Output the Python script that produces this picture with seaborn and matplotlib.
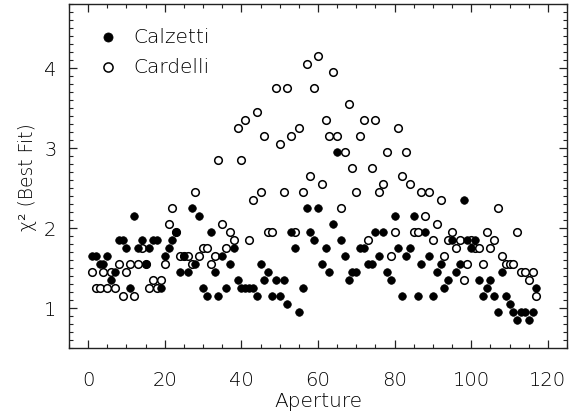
import matplotlib
matplotlib.use("Agg")
import matplotlib.pyplot as plt
import seaborn as sns
import pandas as pd
from matplotlib.ticker import MultipleLocator

aperture = list(range(1, 118))
calzetti = [1.65, 1.65, 1.55, 1.55, 1.65, 1.35, 1.45, 1.85, 1.85, 1.75,
            1.25, 2.15, 1.75, 1.85, 1.55, 1.75, 1.85, 1.85, 1.25, 1.65,
            1.75, 1.85, 1.95, 1.45, 1.65, 1.45, 2.25, 1.55, 2.15, 1.25,
            1.15, 1.95, 1.45, 1.15, 1.65, 1.25, 1.55, 1.75, 1.35, 1.25,
            1.25, 1.25, 1.25, 1.15, 1.55, 1.35, 1.45, 1.15, 1.35, 1.15,
            1.35, 1.05, 1.95, 1.75, 0.95, 1.25, 2.25, 1.95, 1.85, 2.25,
            1.55, 1.75, 1.45, 2.05, 2.95, 1.85, 1.65, 1.35, 1.45, 1.45,
            1.75, 1.75, 1.55, 1.55, 1.95, 1.65, 1.95, 1.45, 1.35, 2.15,
            1.75, 1.15, 1.65, 1.75, 2.15, 1.15, 1.55, 1.95, 1.65, 1.15,
            1.45, 1.55, 1.25, 1.35, 1.85, 1.45, 1.55, 2.35, 1.85, 1.75,
            1.85, 1.35, 1.15, 1.25, 1.35, 1.15, 0.95, 1.45, 1.15, 1.05,
            0.95, 0.85, 0.95, 0.95, 0.85, 0.95, 1.25]
cardelli = [1.45, 1.25, 1.25, 1.45, 1.25, 1.45, 1.25, 1.55, 1.15, 1.45,
            1.55, 1.15, 1.55, 1.75, 1.55, 1.25, 1.35, 1.25, 1.35, 1.55,
            2.05, 2.25, 1.95, 1.65, 1.65, 1.65, 1.55, 2.45, 1.65, 1.75,
            1.75, 1.55, 1.65, 2.85, 2.05, 1.75, 1.95, 1.85, 3.25, 2.85,
            3.35, 1.85, 2.35, 3.45, 2.45, 3.15, 1.95, 1.95, 3.75, 3.05,
            2.45, 3.75, 3.15, 1.95, 3.25, 2.45, 4.05, 2.65, 3.75, 4.15,
            2.55, 3.35, 3.15, 3.95, 3.15, 2.25, 2.95, 3.55, 2.75, 2.45,
            3.15, 3.35, 1.85, 2.75, 3.35, 2.45, 2.55, 2.95, 1.65, 1.95,
            3.25, 2.65, 2.95, 2.55, 1.95, 1.95, 2.45, 2.15, 2.45, 1.85,
            2.05, 2.35, 1.65, 1.85, 1.95, 1.75, 1.85, 1.35, 1.55, 1.85,
            1.75, 1.75, 1.55, 1.95, 1.75, 1.85, 2.25, 1.65, 1.55, 1.55,
            1.55, 1.95, 1.45, 1.45, 1.35, 1.45, 1.15]
labels = ["Calzetti", "Cardelli"]

df_calz = pd.DataFrame({"Aperture": aperture, "chi2": calzetti})
df_card = pd.DataFrame({"Aperture": aperture, "chi2": cardelli})

sns.set_theme(style="ticks")
plt.rcParams["font.family"] = ["DejaVu Sans"]
plt.rcParams["font.weight"] = "light"
plt.rcParams["axes.labelweight"] = "light"
plt.rcParams["axes.edgecolor"] = "#222222"
plt.rcParams["axes.linewidth"] = 1.0

fig = plt.figure(figsize=(5.74, 4.14), dpi=100)
ax = fig.add_axes([69 / 574, 1 - 349 / 414, (567 - 69) / 574, (349 - 4.7) / 414])

sns.scatterplot(data=df_card, x="Aperture", y="chi2", ax=ax, marker="o",
                s=30, facecolor="white", edgecolor="black", linewidth=1.1,
                label=labels[1], zorder=2)
sns.scatterplot(data=df_calz, x="Aperture", y="chi2", ax=ax, marker="o",
                s=30, color="black", edgecolor="black", linewidth=0.5,
                label=labels[0], zorder=3)

ax.set_xlim(-5, 125)
ax.set_ylim(0.5, 4.8)
ax.xaxis.set_major_locator(MultipleLocator(20))
ax.xaxis.set_minor_locator(MultipleLocator(5))
ax.yaxis.set_major_locator(MultipleLocator(1))
ax.yaxis.set_minor_locator(MultipleLocator(0.1))
ax.tick_params(which="both", direction="in", top=True, right=True,
               colors="#222222", labelcolor="black")
ax.tick_params(which="major", length=6, width=0.9, labelsize=14)
ax.tick_params(axis="x", which="major", pad=16)
ax.tick_params(axis="y", which="major", pad=9)
ax.tick_params(which="minor", length=3, width=0.8)

ax.set_xlabel("Aperture", fontsize=14.5, color="black", labelpad=1,
              fontweight="light")
ax.set_ylabel("χ² (Best Fit)", fontsize=13.5, color="black", labelpad=5,
              fontweight="light")

handles, lbls = ax.get_legend_handles_labels()
order = [lbls.index(l) for l in labels]
leg = ax.legend([handles[i] for i in order], [lbls[i] for i in order],
                loc="upper left", bbox_to_anchor=(0.022, 0.985), frameon=False,
                fontsize=14.5, handlelength=1.0, handletextpad=0.75,
                labelspacing=0.55, markerscale=1.2)
for t in leg.get_texts():
    t.set_color("black")

fig.savefig("out.png", dpi=100)
